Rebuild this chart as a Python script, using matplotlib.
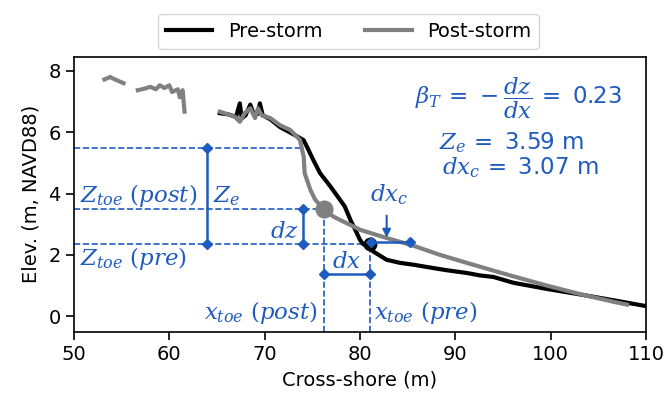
import matplotlib.pyplot as plt

plt.rcParams['mathtext.fontset'] = 'dejavuserif'

# profile data
pre_x = [65.3, 66.2, 67.0, 67.4, 67.6, 68.0, 68.5, 68.9, 69.3, 69.5, 69.8, 70.6,
         71.6, 73.2, 74.1, 75.1, 75.8, 76.9, 77.9, 78.4, 79.0, 79.5, 80.0, 80.3,
         81.0, 81.4, 82.8, 84.2, 85.6, 87.7, 89.1, 91.2, 92.6, 94.0, 96.1, 99.6,
         103.1, 106.6, 110.0]
pre_z = [6.62, 6.58, 6.5, 6.94, 6.45, 6.55, 6.9, 6.55, 6.6, 6.94, 6.55, 6.42,
         6.17, 5.9, 5.74, 5.1, 4.67, 4.23, 3.8, 3.58, 3.14, 2.82, 2.49, 2.36,
         2.22, 2.11, 1.84, 1.74, 1.68, 1.57, 1.5, 1.41, 1.33, 1.28, 1.09, 0.89,
         0.71, 0.52, 0.33]

post_segments_x = [
    [53.2, 53.8, 54.3, 55.2],
    [56.7, 57.4, 58.0, 58.6, 59.0, 59.5, 60.0, 60.3, 60.9, 61.1, 61.4, 61.6],
    [65.3, 66.0, 66.9, 67.4, 67.9, 68.5, 69.0, 69.3, 69.7, 70.6, 71.6, 72.7,
     73.7, 74.1, 74.2, 74.8, 75.3, 75.8, 76.2, 77.2, 80.0, 82.8, 85.6, 88.4,
     91.2, 94.3, 96.1, 99.6, 103.1, 106.6, 108.0],
]
post_segments_z = [
    [7.72, 7.8, 7.72, 7.6],
    [7.37, 7.42, 7.48, 7.4, 7.53, 7.44, 7.53, 7.31, 7.4, 7.14, 7.37, 6.67],
    [6.67, 6.6, 6.5, 6.34, 6.62, 6.78, 6.46, 6.78, 6.55, 6.46, 6.23, 6.07,
     5.75, 5.2, 4.66, 4.12, 3.8, 3.63, 3.5, 3.25, 2.82, 2.55, 2.3, 2.0,
     1.74, 1.46, 1.3, 1.0, 0.72, 0.47, 0.38],
]

# toe / crest annotation values
x_toe_pre, z_toe_pre = 81.0, 2.36
x_toe_post, z_toe_post = 76.2, 3.48
z_top = 5.5
x_top = 73.8
x_ze = 64.0
x_dz = 74.0
z_dx = 1.39
z_dxc = 2.41
x_dxc_end = 85.2

blue = '#1f5bbf'

fig = plt.figure(figsize=(6.66, 3.99), dpi=100)
ax = fig.add_axes([0.111, 0.169, 0.859, 0.688])

ax.plot(pre_x, pre_z, color='black', lw=3, label='Pre-storm', zorder=3)
for i, (sx, sz) in enumerate(zip(post_segments_x, post_segments_z)):
    ax.plot(sx, sz, color='#808080', lw=3, zorder=4,
            label='Post-storm' if i == 0 else None)

ax.plot(x_toe_post, z_toe_post, 'o', color='#808080', ms=12, zorder=5)
ax.plot(x_toe_pre, z_toe_pre, 'o', color='black', ms=9, zorder=5)

ymin = -0.5
# dashed guide lines
ax.plot([50, x_top], [z_top, z_top], '--', color=blue, lw=1.2, zorder=2)
ax.plot([50, x_toe_post], [z_toe_post, z_toe_post], '--', color=blue, lw=1.2, zorder=2)
ax.plot([50, x_toe_pre], [z_toe_pre, z_toe_pre], '--', color=blue, lw=1.2, zorder=2)
ax.plot([x_toe_post, x_toe_post], [ymin, z_toe_post], '--', color=blue, lw=1.2, zorder=2)
ax.plot([x_toe_pre, x_toe_pre], [ymin, z_toe_pre], '--', color=blue, lw=1.2, zorder=2)

# solid dimension lines with diamond ends
dim = dict(color=blue, lw=1.8, marker='D', ms=5, zorder=6)
ax.plot([x_ze, x_ze], [z_toe_pre, z_top], **dim)
ax.plot([x_dz, x_dz], [z_toe_pre, z_toe_post], **dim)
ax.plot([x_toe_post, x_toe_pre], [z_dx, z_dx], **dim)
ax.plot([x_toe_pre + 0.2, x_dxc_end], [z_dxc, z_dxc], **dim)
ax.annotate('', xy=(82.8, 2.47), xytext=(82.8, 3.37),
            arrowprops=dict(arrowstyle='-|>', color=blue, lw=1.5,
                            mutation_scale=12), zorder=6)

fs = 16.5
ax.text(50.6, 3.72, r'$Z_{toe}\ (post)$', color=blue, fontsize=fs, va='baseline')
ax.text(50.6, 1.66, r'$Z_{toe}\ (pre)$', color=blue, fontsize=fs, va='baseline')
ax.text(64.6, 3.72, r'$Z_e$', color=blue, fontsize=fs, va='baseline')
ax.text(73.6, 2.56, r'$dz$', color=blue, fontsize=fs, va='baseline', ha='right')
ax.text(78.6, 1.58, r'$dx$', color=blue, fontsize=fs, va='baseline', ha='center')
ax.text(81.1, 3.74, r'$dx_c$', color=blue, fontsize=fs, va='baseline')
ax.text(75.6, -0.1, r'$x_{toe}\ (post)$', color=blue, fontsize=fs, va='baseline', ha='right')
ax.text(81.5, -0.1, r'$x_{toe}\ (pre)$', color=blue, fontsize=fs, va='baseline')

ax.text(96.6, 7.1, r'$\beta_T\,=\,-\dfrac{dz}{dx}\,=$ 0.23', color=blue, fontsize=fs,
        ha='center', va='center')
ax.text(95.9, 5.65, r'$Z_e\,=$ 3.59 m', color=blue, fontsize=fs, ha='center', va='center')
ax.text(96.8, 4.83, r'$dx_c\,=$ 3.07 m', color=blue, fontsize=fs, ha='center', va='center')

ax.set_xlim(50, 110)
ax.set_ylim(ymin, 8.45)
ax.set_xticks([50, 60, 70, 80, 90, 100, 110])
ax.set_yticks([0, 2, 4, 6, 8])
ax.tick_params(labelsize=14, width=1.2, length=6)
for s in ax.spines.values():
    s.set_linewidth(1.2)
ax.set_xlabel('Cross-shore (m)', fontsize=14, labelpad=5)
ax.set_ylabel('Elev. (m, NAVD88)', fontsize=14, labelpad=6)

ax.legend(loc='lower center', bbox_to_anchor=(0.48, 1.03), ncol=2, fontsize=14,
          frameon=True, handlelength=2.4, columnspacing=2.2, borderaxespad=0)

fig.savefig('out.png', dpi=100)
